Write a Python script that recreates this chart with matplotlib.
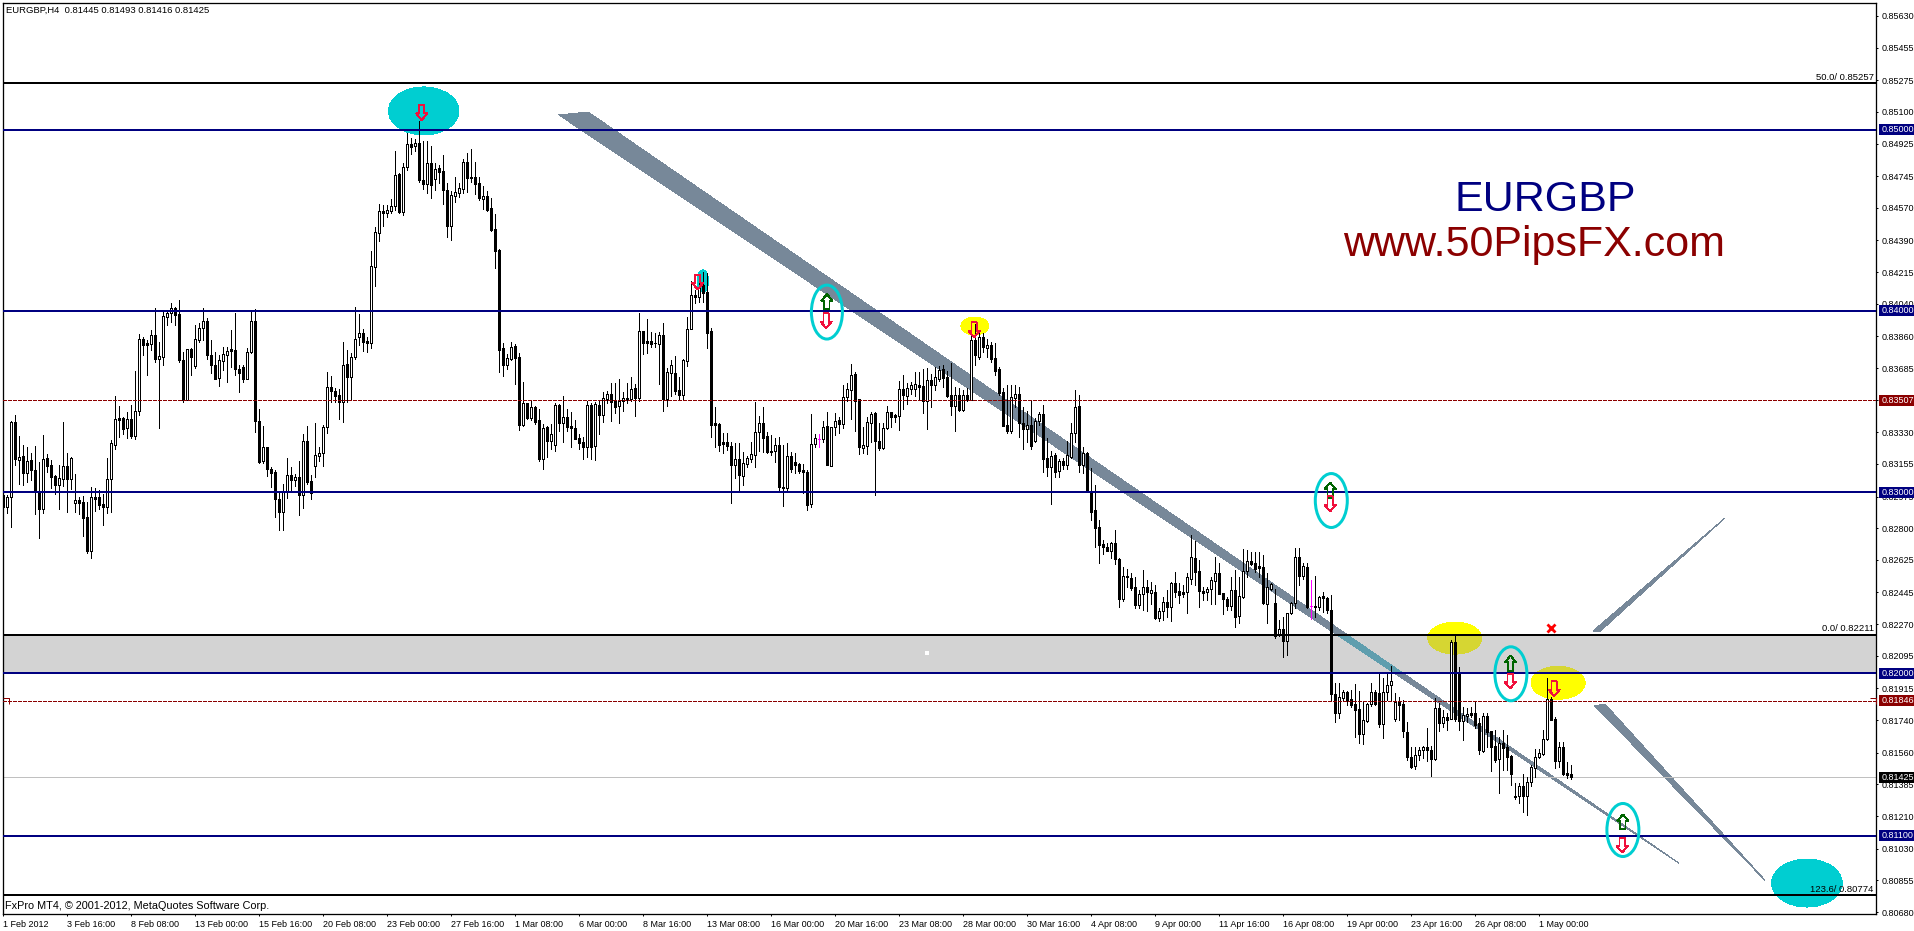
import numpy as np
from matplotlib import pyplot as plt
from matplotlib import transforms
from matplotlib.patches import Ellipse, Polygon, Rectangle

plt.rcParams['font.family'] = ['Liberation Sans', 'DejaVu Sans']

# H4 candles, prices in 1/100000
bar_up = ("BWWBWBWBBB" "WBBBWWBWWB" "BBWBBBWWWB" "BWBWWBBWBW" "WWWBBBWBWW" "WBBBWWWBBB" "BWWBB"
          "WBBBBWWBWB" "WBBWWWWBBB" "WBWWWBBWWW" "BWWWBWWBWB" "BWBWBBBWWW" "WBBBBWBBBB" "BWWBB"
          "WBWBBWBWWB" "WBBBBBWBWB" "WWBBWWBWBW" "BBBBWBWWBB" "WWWBWBBBBB" "BBBWBWWWWW" "BBBWB"
          "BWBBBBBWWW" "WBWWBWWWBB" "WWWBBWWBBW" "BWWWBBWBWW" "BBBWBWBWBW" "BWBBBBBWWB" "BWBWW"
          "BBWBWBWWWB" "WBBBBBBWBB" "WBBBWWBWBW" "WBWBBBWWBB" "BWWWBBBWBW" "WWBBBBWWBW" "BWWWB"
          "WBWBWBBBBW" "WBBBBWWWBB" "WWWWBBBBWW" "WBBWBWBWBB" "WWBBBWBBBW" "BBBBWBWWWW" "WWBBWBBB")

highs = [83038, 82983, 83394, 83425, 83309, 83259, 83247, 83213, 83254, 83167,
         83315, 83210, 83177, 83094, 83149, 83387, 83213, 83191, 83099, 82970,
         82978, 82946, 83029, 83022, 83011, 82989, 83186, 83287, 83530, 83475,
         83416, 83444, 83481, 83668, 83873, 83858, 83840, 83895, 84015, 83830,
         84002, 83998, 84042, 84024, 84061, 83775, 83788, 83794, 83923, 83932,
         84015, 83959, 83840, 83773, 83757, 83799, 83799, 83895, 83987, 83702,
         83702, 83794, 84002, 84009, 83457,
         83364, 83250, 83136, 83121, 82992, 83044, 83186, 83136, 83099, 83171,
         83320, 83364, 83094, 83379, 83246, 83370, 83665, 83641, 83572, 83567,
         83827, 83784, 83770, 84022, 83981, 83900, 83854, 84331, 84462, 84591,
         84584, 84587, 84617, 84882, 84764, 84816, 84985, 84954, 84948, 85051,
         84939, 84939, 84912, 84816, 84807, 84862, 84709, 84665, 84738, 84705,
         84838, 84871, 84893, 84825, 84742, 84691, 84663, 84622, 84536, 84341,
         83821, 83762, 83827, 83817, 83766,
         83605, 83493, 83508, 83474, 83456, 83375, 83364, 83375, 83489, 83485,
         83530, 83456, 83443, 83397, 83320, 83305, 83504, 83489, 83498, 83504,
         83554, 83559, 83600, 83600, 83624, 83554, 83600, 83637, 83596, 83990,
         83891, 83953, 83883, 83876, 83883, 83931, 83683, 83729, 83751, 83637,
         83736, 83968, 84165, 84115, 84162, 84217, 84208, 83904, 83471, 83382,
         83327, 83327, 83277, 83268, 83272, 83222, 83198, 83279, 83497, 83419,
         83467, 83334, 83314, 83296, 83305,
         83260, 83269, 83223, 83214, 83162, 83155, 83121, 83431, 83320, 83320,
         83392, 83440, 83361, 83438, 83412, 83591, 83600, 83705, 83663, 83515,
         83361, 83416, 83444, 83444, 83383, 83379, 83475, 83444, 83431, 83615,
         83646, 83600, 83609, 83665, 83665, 83678, 83683, 83652, 83689, 83696,
         83702, 83670, 83711, 83578, 83573, 83563, 83573, 83941, 83926, 83895,
         83877, 83843, 83830, 83825, 83689, 83573, 83591, 83591, 83591, 83582,
         83468, 83449, 83508, 83407, 83444,
         83481, 83296, 83226, 83214, 83180, 83186, 83284, 83379, 83564, 83536,
         83247, 83219, 83131, 83039, 82845, 82735, 82720, 82724, 82790, 82633,
         82587, 82573, 82554, 82528, 82458, 82569, 82514, 82504, 82486, 82362,
         82421, 82458, 82504, 82560, 82499, 82486, 82550, 82762, 82731, 82624,
         82477, 82477, 82528, 82639, 82606, 82444, 82421, 82532, 82569, 82532,
         82687, 82679, 82670, 82668, 82670, 82652, 82550, 82499, 82466, 82293,
         82311, 82333, 82394, 82689, 82689,
         82606, 82606, 82514, 82536, 82425, 82447, 82422, 82431, 81943, 81946,
         81906, 81902, 81909, 81939, 81902, 81847, 81832, 81943, 81906, 82002,
         81970, 81998, 82038, 81891, 81869, 81851, 81731, 81593, 81593, 81589,
         81596, 81694, 81596, 81860, 81832, 81795, 81777, 82182, 82210, 82035,
         81810, 81805, 81814, 81847, 81749, 81781, 81777, 81681, 81685, 81644,
         81688, 81657, 81547, 81390, 81390, 81440, 81427, 81491, 81583, 81578,
         81685, 81970, 81869, 81758, 81621, 81621, 81506, 81493]

body_tops = [82983, 82970, 83385, 83385, 83191, 83199, 83169, 83175, 83121, 83002,
             83180, 83188, 83147, 83088, 83075, 83143, 83143, 83188, 82954, 82955,
             82944, 82860, 82970, 82970, 82970, 82933, 83070, 83269, 83401, 83407,
             83409, 83401, 83401, 83446, 83843, 83843, 83823, 83866, 83867, 83751,
             83972, 83991, 84015, 84015, 83983, 83729, 83788, 83788, 83843, 83904,
             83943, 83943, 83755, 83700, 83729, 83760, 83777, 83788, 83783, 83678,
             83689, 83771, 83947, 83947, 83390,
             83246, 83246, 83129, 83110, 82959, 83007, 83095, 83095, 83084, 83084,
             83280, 83280, 83059, 83202, 83213, 83357, 83578, 83578, 83560, 83537,
             83700, 83707, 83747, 83847, 83876, 83876, 83834, 84248, 84436, 84551,
             84552, 84558, 84578, 84751, 84757, 84794, 84923, 84923, 84926, 84926,
             84724, 84816, 84818, 84783, 84788, 84772, 84668, 84641, 84656, 84678,
             84823, 84821, 84742, 84738, 84705, 84635, 84635, 84567, 84451, 84337,
             83795, 83738, 83803, 83806, 83744,
             83489, 83489, 83467, 83467, 83397, 83353, 83357, 83323, 83478, 83480,
             83412, 83412, 83364, 83351, 83298, 83275, 83480, 83480, 83484, 83480,
             83517, 83544, 83544, 83504, 83500, 83522, 83519, 83567, 83574, 83887,
             83887, 83832, 83832, 83824, 83865, 83865, 83662, 83699, 83655, 83563,
             83729, 83902, 84086, 84086, 84134, 84143, 84104, 83887, 83379, 83375,
             83275, 83275, 83253, 83185, 83180, 83158, 83187, 83209, 83334, 83382,
             83379, 83309, 83229, 83257, 83257,
             83029, 83199, 83199, 83164, 83155, 83121, 83110, 83263, 83296, 83291,
             83357, 83363, 83357, 83394, 83398, 83527, 83567, 83644, 83652, 83512,
             83257, 83386, 83431, 83434, 83280, 83352, 83442, 83442, 83423, 83567,
             83567, 83573, 83589, 83595, 83589, 83585, 83619, 83619, 83633, 83672,
             83678, 83637, 83536, 83534, 83536, 83534, 83538, 83838, 83840, 83854,
             83854, 83812, 83812, 83738, 83679, 83551, 83370, 83523, 83541, 83539,
             83379, 83372, 83370, 83394, 83431,
             83431, 83186, 83201, 83204, 83169, 83169, 83202, 83324, 83471, 83475,
             83214, 83214, 83007, 82899, 82805, 82712, 82698, 82716, 82716, 82630,
             82536, 82536, 82525, 82477, 82436, 82473, 82473, 82456, 82447, 82340,
             82390, 82392, 82499, 82495, 82453, 82447, 82530, 82639, 82633, 82561,
             82455, 82464, 82512, 82550, 82552, 82440, 82407, 82458, 82458, 82425,
             82565, 82617, 82617, 82607, 82591, 82587, 82473, 82493, 82385, 82245,
             82245, 82329, 82388, 82639, 82639,
             82591, 82584, 82368, 82370, 82418, 82423, 82414, 82348, 81884, 81865,
             81893, 81893, 81854, 81828, 81801, 81740, 81830, 81893, 81893, 81891,
             81898, 81932, 81954, 81840, 81840, 81828, 81677, 81537, 81545, 81574,
             81589, 81589, 81574, 81806, 81806, 81755, 81755, 82171, 82169, 82002,
             81768, 81773, 81779, 81781, 81722, 81762, 81762, 81681, 81596, 81611,
             81611, 81593, 81541, 81322, 81375, 81375, 81396, 81482, 81537, 81556,
             81633, 81854, 81854, 81744, 81589, 81589, 81446, 81445]

body_bottoms = [82919, 82919, 82970, 83180, 83178, 83107, 83107, 83121, 83002, 82908,
                82908, 83143, 83084, 83038, 83038, 83073, 83073, 83073, 82937, 82941,
                82856, 82676, 82676, 82963, 82928, 82919, 82919, 83070, 83261, 83398,
                83350, 83355, 83309, 83309, 83446, 83814, 83814, 83818, 83735, 83733,
                83748, 83969, 83987, 83978, 83729, 83508, 83508, 83748, 83696, 83840,
                83904, 83759, 83700, 83626, 83632, 83725, 83759, 83779, 83678, 83659,
                83626, 83626, 83771, 83390, 83166,
                83173, 83129, 83106, 82959, 82891, 82891, 83007, 83066, 83066, 82985,
                82985, 83057, 82992, 83143, 83199, 83213, 83357, 83560, 83530, 83499,
                83499, 83633, 83633, 83747, 83854, 83828, 83825, 83825, 84245, 84433,
                84543, 84543, 84552, 84578, 84547, 84547, 84794, 84908, 84913, 84724,
                84702, 84702, 84696, 84731, 84770, 84668, 84470, 84470, 84637, 84654,
                84674, 84737, 84737, 84702, 84624, 84621, 84558, 84447, 84333, 83784,
                83703, 83703, 83736, 83740, 83370,
                83369, 83408, 83408, 83386, 83183, 83183, 83283, 83283, 83261, 83382,
                83382, 83360, 83351, 83292, 83272, 83246, 83246, 83246, 83255, 83427,
                83423, 83515, 83498, 83471, 83474, 83500, 83508, 83515, 83519, 83519,
                83824, 83824, 83817, 83821, 83817, 83515, 83515, 83659, 83559, 83537,
                83537, 83725, 83902, 84079, 84079, 84097, 83880, 83371, 83371, 83261,
                83266, 83253, 83148, 83148, 83093, 83091, 83156, 83183, 83206, 83334,
                83298, 83220, 83220, 83229, 83025,
                83022, 83022, 83129, 83149, 83118, 83112, 82930, 82935, 83263, 83291,
                83295, 83149, 83145, 83357, 83376, 83376, 83527, 83563, 83505, 83247,
                83245, 83256, 83383, 83280, 83245, 83245, 83353, 83416, 83416, 83422,
                83538, 83532, 83571, 83571, 83582, 83505, 83505, 83591, 83593, 83626,
                83630, 83530, 83475, 83475, 83453, 83453, 83508, 83508, 83755, 83748,
                83803, 83797, 83735, 83670, 83545, 83364, 83339, 83339, 83519, 83379,
                83346, 83346, 83254, 83280, 83394,
                83184, 83140, 83140, 83112, 83118, 83151, 83151, 83195, 83324, 83151,
                83147, 83004, 82891, 82803, 82709, 82694, 82676, 82676, 82628, 82410,
                82410, 82528, 82469, 82375, 82374, 82434, 82447, 82440, 82304, 82302,
                82340, 82366, 82366, 82447, 82432, 82438, 82449, 82521, 82558, 82451,
                82444, 82445, 82462, 82510, 82438, 82407, 82370, 82370, 82311, 82315,
                82418, 82563, 82602, 82576, 82580, 82388, 82383, 82464, 82204, 82215,
                82178, 82178, 82329, 82385, 82536,
                82536, 82363, 82368, 82366, 82363, 82416, 82348, 81882, 81777, 81777,
                81863, 81851, 81823, 81795, 81663, 81663, 81736, 81827, 81828, 81718,
                81718, 81898, 81932, 81744, 81825, 81681, 81534, 81482, 81486, 81545,
                81574, 81574, 81526, 81526, 81725, 81725, 81742, 81747, 81744, 81736,
                81736, 81764, 81770, 81712, 81574, 81571, 81674, 81593, 81519, 81526,
                81585, 81537, 81442, 81318, 81322, 81320, 81320, 81396, 81478, 81537,
                81552, 81633, 81740, 81515, 81516, 81442, 81435, 81425]

lows = [82836, 82886, 82808, 83149, 83044, 83038, 83057, 83066, 82878, 82745,
        82882, 83112, 83020, 82989, 82908, 83033, 82891, 83018, 82889, 82878,
        82757, 82664, 82637, 82897, 82904, 82817, 82886, 82891, 83239, 83306,
        83320, 83300, 83296, 83294, 83427, 83757, 83648, 83784, 83720, 83355,
        83702, 83923, 83941, 83923, 83720, 83499, 83508, 83646, 83683, 83829,
        83840, 83737, 83655, 83626, 83585, 83674, 83609, 83692, 83644, 83554,
        83609, 83626, 83766, 83333, 83162,
        83158, 83088, 83029, 82863, 82790, 82790, 82965, 83001, 83033, 82872,
        82909, 83044, 82959, 83084, 83173, 83143, 83327, 83499, 83499, 83405,
        83388, 83499, 83512, 83733, 83812, 83781, 83775, 83793, 84138, 84387,
        84469, 84521, 84539, 84558, 84539, 84532, 84779, 84867, 84886, 84714,
        84672, 84650, 84622, 84668, 84709, 84591, 84411, 84392, 84604, 84632,
        84650, 84656, 84714, 84646, 84613, 84562, 84551, 84442, 84239, 83665,
        83641, 83677, 83729, 83596, 83342,
        83364, 83401, 83397, 83375, 83172, 83126, 83194, 83239, 83228, 83338,
        83277, 83338, 83250, 83292, 83240, 83185, 83194, 83185, 83176, 83323,
        83388, 83493, 83393, 83434, 83382, 83449, 83489, 83504, 83419, 83504,
        83765, 83769, 83802, 83802, 83596, 83449, 83474, 83530, 83541, 83511,
        83508, 83695, 83902, 84042, 84051, 84051, 83795, 83305, 83250, 83224,
        83216, 83231, 82940, 83080, 83001, 83038, 83139, 83167, 83139, 83224,
        83222, 83213, 83204, 83167, 83003,
        82922, 83011, 83112, 83103, 83103, 82992, 82900, 82919, 83250, 83250,
        83278, 83149, 83145, 83315, 83328, 83352, 83505, 83401, 83339, 83210,
        83213, 83210, 83278, 82983, 83232, 83236, 83350, 83361, 83388, 83342,
        83460, 83486, 83541, 83530, 83508, 83434, 83350, 83468, 83563, 83615,
        83582, 83523, 83425, 83339, 83449, 83449, 83505, 83508, 83702, 83737,
        83775, 83748, 83720, 83646, 83536, 83364, 83328, 83324, 83471, 83302,
        83235, 83278, 83235, 83276, 83370,
        83112, 83088, 82934, 83085, 83085, 83125, 83125, 83186, 83278, 83112,
        83103, 83000, 82845, 82694, 82609, 82657, 82672, 82633, 82602, 82363,
        82399, 82477, 82458, 82361, 82359, 82348, 82344, 82381, 82296, 82289,
        82293, 82311, 82289, 82421, 82385, 82418, 82333, 82491, 82486, 82366,
        82403, 82403, 82381, 82381, 82436, 82326, 82348, 82348, 82256, 82274,
        82412, 82532, 82597, 82560, 82532, 82381, 82278, 82458, 82191, 82204,
        82090, 82099, 82326, 82357, 82486,
        82521, 82357, 82296, 82307, 82348, 82339, 82333, 81845, 81731, 81751,
        81851, 81823, 81814, 81644, 81611, 81607, 81731, 81817, 81823, 81703,
        81639, 81851, 81851, 81736, 81740, 81648, 81519, 81478, 81471, 81519,
        81528, 81515, 81431, 81519, 81681, 81700, 81685, 81744, 81735, 81685,
        81630, 81731, 81758, 81694, 81552, 81565, 81593, 81460, 81506, 81335,
        81464, 81467, 81381, 81307, 81283, 81233, 81215, 81375, 81427, 81528,
        81547, 81630, 81740, 81478, 81479, 81437, 81423, 81416]

magenta_bars = [204, 327]

date_labels = ['1 Feb 2012', '3 Feb 16:00', '8 Feb 08:00', '13 Feb 00:00', '15 Feb 16:00', '20 Feb 08:00',
               '23 Feb 00:00', '27 Feb 16:00', '1 Mar 08:00', '6 Mar 00:00', '8 Mar 16:00', '13 Mar 08:00',
               '16 Mar 00:00', '20 Mar 16:00', '23 Mar 08:00', '28 Mar 00:00', '30 Mar 16:00', '4 Apr 08:00',
               '9 Apr 00:00', '11 Apr 16:00', '16 Apr 08:00', '19 Apr 00:00', '23 Apr 16:00', '26 Apr 08:00',
               '1 May 00:00']
price_ticks = [0.85630, 0.85455, 0.85275, 0.85100, 0.84925, 0.84745, 0.84570, 0.84390, 0.84215, 0.84040,
               0.83860, 0.83685, 0.83510, 0.83330, 0.83155, 0.82975, 0.82800, 0.82625, 0.82445, 0.82270,
               0.82095, 0.81915, 0.81740, 0.81560, 0.81385, 0.81210, 0.81030, 0.80855, 0.80680]

blue_levels = [0.85, 0.84, 0.83, 0.82, 0.811]
fibo_levels = [0.85257, 0.82211, 0.80774]
fibo_labels = ['50.0/ 0.85257', '0.0/ 0.82211', '123.6/ 0.80774']
red_levels = [0.83507, 0.81846]
last_price = 0.81425

# objects drawn by hand on the chart: bar number, price
band_main = [(138.9, 0.85083), (146.2, 0.85099), (418.9, 0.8095)]
band_up = [(397.4, 0.82232), (399.3, 0.82232), (430.4, 0.82856)]
band_down = [(397.9, 0.81818), (400.4, 0.81829), (440.4, 0.80856)]
# centre bar, centre price, width in bars, height in price
cyan_spots = [(105.1, 0.85105, 17.65, 0.00265), (174.9, 0.84166, 2.9, 0.00122), (450.9, 0.8084, 17.65, 0.00265)]
cyan_rings = [(205.9, 0.83994, 7.75, 0.00298), (332.0, 0.82953, 8, 0.00298),
              (376.9, 0.81996, 8, 0.00298), (404.9, 0.81133, 8, 0.00293)]
yellow_spots = [(242.9, 0.83917, 7.0, 0.00099), (362.9, 0.82193, 13.5, 0.00177), (388.7, 0.81946, 13.5, 0.00182)]
up_arrows = [(205.9, 0.84051), (331.7, 0.83011), (376.8, 0.82055), (404.9, 0.81178)]
down_arrows = [(104.6, 0.85096), (173.6, 0.8416), (205.7, 0.83946), (242.7, 0.83895), (331.7, 0.82934),
               (376.7, 0.81956), (387.7, 0.81913), (404.7, 0.8105)]

W, H = 1914, 931
left, right, top, bottom = 2.5, 1876.5, 2.5, 914.0
fig = plt.figure(figsize=(W / 100, H / 100), dpi=100, facecolor='white')
ax = fig.add_axes([left / W, (H - bottom) / H, (right - left) / W, (bottom - top) / H])
ax.set_xlim(-0.2, 468.3)
ax.set_ylim(0.80669, 0.85704)

px = 0.72  # one screen pixel in points
navy = '#000080'
dark_red = '#8B0000'
turq = '#00CED1'
small_font = 6.5

# shaded zone and bands under the candles
zone = ax.axhspan(0.82, 0.82211, color='#D3D3D3', lw=0, zorder=0.5)
for band in [band_main, band_up, band_down]:
    ax.add_patch(Polygon(band, closed=True, fc='#778899', ec='none', zorder=1, antialiased=False))
over = Polygon(band_main, closed=True, fc='#5F9EAE', ec='none', zorder=1.1, antialiased=False)
ax.add_patch(over)
over.set_clip_path(zone)

for cx, cy, w, h in cyan_spots:
    ax.add_patch(Ellipse((cx, cy), w, h, fc=turq, ec='none', zorder=1.2, antialiased=False))
for cx, cy, w, h in yellow_spots:
    ax.add_patch(Ellipse((cx, cy), w, h, fc='#FFFF00', ec='none', zorder=1.2, antialiased=False))
    e = Ellipse((cx, cy), w, h, fc='#D6D632', ec='none', zorder=1.3, antialiased=False)
    ax.add_patch(e)
    e.set_clip_path(zone)

# candles
x = np.arange(len(highs))
hi = np.array(highs) / 1e5
lo = np.array(lows) / 1e5
tp = np.array(body_tops) / 1e5
bt = np.array(body_bottoms) / 1e5
colors = ['white' if c == 'W' else 'black' for c in bar_up]
wick_colors = ['#FF00FF' if i in magenta_bars else 'black' for i in x]
ax.vlines(x, lo, hi, colors=wick_colors, lw=px, zorder=2, antialiased=False)
ax.bar(x, tp - bt, bottom=bt, width=0.5, color=colors, edgecolor=wick_colors, linewidth=px, zorder=2.1,
       antialiased=False)

# price levels
for lv in blue_levels:
    ax.axhline(lv, color=navy, lw=2 * px, zorder=3, antialiased=False)
for lv in fibo_levels:
    ax.axhline(lv, color='black', lw=2 * px, zorder=3, antialiased=False)
for lv in red_levels:
    ax.axhline(lv, color=dark_red, lw=px, ls=(0, (3, 2)), zorder=3, antialiased=False)
ax.axhline(last_price, color='#C0C0C0', lw=px, zorder=1.5, antialiased=False)
for bx in [0.6, 467.4]:
    ax.plot(bx, red_levels[1], marker=[(-1, 1), (1, 1), (1, -1)], ms=4, mfc='none', mec=dark_red, mew=px, zorder=3)

for cx, cy, w, h in cyan_rings:
    ax.add_patch(Ellipse((cx, cy), w, h, fc='none', ec=turq, lw=3 * px, zorder=3.5))


def arrow(bx, py, up, color):
    d = 1 if up else -1
    hw, sw, hh = 1.4, 0.65, 7.5 / 18100
    tip = py + d * hh
    neck = py + d * hh * 0.1
    tail = py - d * hh
    pts = [(bx, tip), (bx + hw, neck), (bx + sw, neck), (bx + sw, tail),
           (bx - sw, tail), (bx - sw, neck), (bx - hw, neck)]
    ax.add_patch(Polygon(pts, closed=True, fc='none', ec=color, lw=px, zorder=4, antialiased=False))


for bx, py in up_arrows:
    arrow(bx, py, True, '#006400')
for bx, py in down_arrows:
    arrow(bx, py, False, '#F0103C')

ax.plot(386.9, 0.82249, marker='x', ms=6, mew=2, color='#FF0000', zorder=4)
ax.plot(231.0, 0.8211, marker='s', ms=2.2, color='white', mew=0, zorder=4)

# axes
for s in ax.spines.values():
    s.set_linewidth(1.3 * px)
    s.set_color('black')
ax.yaxis.tick_right()
ax.set_yticks(price_ticks)
ax.set_yticklabels(['%.5f' % p for p in price_ticks])
ax.set_xticks(np.arange(len(date_labels)) * 16)
ax.set_xticklabels(date_labels, ha='left')
ax.tick_params(axis='y', length=2.5 * px, width=px, pad=2, labelsize=small_font)
ax.tick_params(axis='x', length=2.5 * px, width=px, pad=2.2, labelsize=small_font)

# coloured price tags on the scale
tag_tr = transforms.blended_transform_factory(ax.transAxes, ax.transData)
tag_x = 1 + 2.5 / (right - left)
tag_w = 35.5 / (right - left)
tag_h = 11 / 18100


def price_tag(p, bg):
    ax.add_patch(Rectangle((tag_x, p - tag_h / 2), tag_w, tag_h, transform=tag_tr, fc=bg, ec='none',
                           clip_on=False, zorder=10))
    ax.text(tag_x + 2.5 / (right - left), p, '%.5f' % p, transform=tag_tr, color='white', fontsize=small_font,
            va='center', ha='left', zorder=11, clip_on=False)


for lv in blue_levels:
    price_tag(lv, navy)
for lv in red_levels:
    price_tag(lv, dark_red)
price_tag(last_price, 'black')

for lv, lab in zip(fibo_levels, fibo_labels):
    ax.annotate(lab, (1, lv), xycoords=tag_tr, xytext=(-2, 1), textcoords='offset points', ha='right', va='bottom',
                fontsize=6.8, color='black', zorder=6)

ax.text(4 / (right - left), 1 - 8.2 / (bottom - top), 'EURGBP,H4  0.81445 0.81493 0.81416 0.81425', transform=ax.transAxes,
        fontsize=6.8, va='center', ha='left', color='black', zorder=6)
ax.text(2.5 / (right - left), 8 / (bottom - top), 'FxPro MT4, \u00a9 2001-2012, MetaQuotes Software Corp.',
        transform=ax.transAxes, fontsize=7.8, va='center', ha='left', color='black', zorder=6)

ax.text(385.5, 0.84612, 'EURGBP', fontsize=31, color=navy, ha='center', va='center', zorder=6)
ax.text(382.7, 0.84366, 'www.50PipsFX.com', fontsize=31, color=dark_red, ha='center', va='center', zorder=6)

fig.savefig('out.png', dpi=100, facecolor='white')
